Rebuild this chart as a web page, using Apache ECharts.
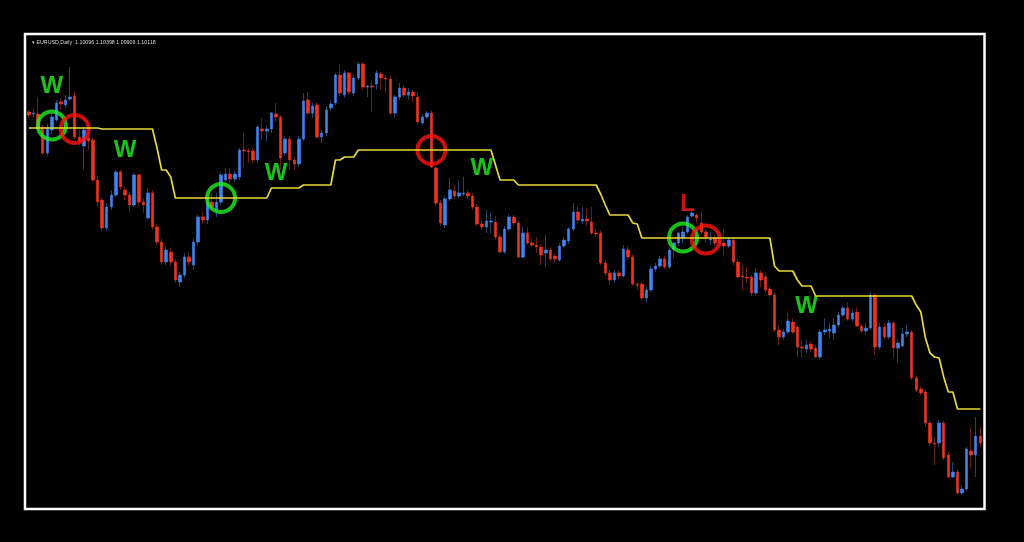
<!DOCTYPE html>
<html>
<head>
<meta charset="utf-8">
<script src="https://cdn.jsdelivr.net/npm/echarts@6/dist/echarts.min.js"></script>
<style>
html,body{margin:0;padding:0;background:#000;}
#chart{width:1024px;height:542px;}
</style>
</head>
<body>
<div id="chart"></div>
<script>
// EURUSD daily bars, prices x 10^4 (points)
const open = [
11776,11772,11772,11746,11694,11740,11760,11796,11790,11802,
11808,11726,11708,11724,11720,11640,11600,11544,11586,11610,
11656,11620,11610,11590,11650,11596,11564,11614,11546,11516,
11476,11496,11476,11436,11450,11486,11470,11516,11566,11560,
11596,11580,11596,11640,11652,11642,11646,11700,11698,11698,
11680,11742,11738,11742,11772,11766,11694,11722,11680,11672,
11722,11800,11774,11790,11726,11734,11784,11794,11850,11810,
11854,11814,11844,11872,11826,11828,11832,11852,11844,11842,
11774,11806,11824,11810,11816,11806,11754,11766,11774,11664,
11594,11550,11602,11618,11608,11612,11614,11608,11586,11552,
11546,11556,11556,11526,11496,11542,11566,11554,11486,11534,
11514,11510,11506,11494,11500,11488,11480,11508,11518,11542,
11576,11558,11562,11556,11534,11534,11474,11454,11440,11454,
11448,11500,11486,11432,11432,11404,11420,11462,11468,11482,
11466,11502,11514,11524,11536,11568,11570,11554,11536,11520,
11524,11514,11514,11508,11520,11476,11448,11446,11446,11414,
11454,11446,11422,11410,11340,11326,11336,11356,11346,11306,
11302,11312,11304,11286,11336,11338,11334,11350,11370,11384,
11362,11376,11348,11338,11344,11410,11306,11346,11326,11354,
11304,11308,11332,11336,11244,11222,11216,11154,11114,11114,
11154,11090,11046,11056,11014,11022,11098,11090,11128];

const close = [
11770,11774,11746,11694,11746,11766,11794,11792,11800,11806,
11726,11716,11740,11718,11640,11596,11544,11586,11610,11656,
11626,11610,11590,11650,11596,11590,11614,11546,11516,11476,
11500,11476,11440,11450,11486,11476,11516,11566,11560,11596,
11586,11596,11650,11652,11642,11652,11700,11698,11696,11680,
11746,11738,11742,11774,11766,11684,11722,11680,11672,11722,
11798,11774,11788,11726,11734,11780,11792,11850,11814,11854,
11816,11844,11872,11826,11828,11826,11854,11844,11842,11774,
11806,11824,11810,11816,11808,11756,11766,11774,11666,11594,
11554,11602,11620,11608,11614,11614,11608,11586,11552,11546,
11558,11558,11526,11496,11542,11566,11554,11486,11534,11514,
11510,11506,11490,11500,11482,11482,11508,11520,11542,11576,
11560,11562,11558,11534,11532,11474,11454,11440,11454,11448,
11502,11486,11432,11430,11404,11420,11462,11468,11482,11466,
11500,11514,11534,11536,11566,11574,11564,11536,11526,11522,
11514,11518,11508,11520,11476,11446,11446,11444,11414,11454,
11440,11420,11410,11340,11326,11336,11358,11336,11306,11304,
11310,11302,11286,11336,11340,11342,11350,11370,11384,11362,
11374,11348,11338,11344,11410,11306,11346,11326,11354,11304,
11314,11332,11336,11244,11220,11214,11154,11114,11112,11154,
11084,11046,11056,11014,11022,11102,11090,11128,11114];

const low = [
11764,11766,11742,11690,11688,11732,11756,11780,11784,11798,
11722,11708,11660,11700,11636,11586,11538,11538,11580,11606,
11620,11600,11574,11586,11586,11574,11560,11540,11510,11470,
11470,11468,11434,11426,11444,11468,11460,11510,11552,11552,
11580,11566,11590,11632,11630,11636,11640,11666,11674,11674,
11674,11720,11716,11734,11756,11660,11688,11660,11660,11666,
11718,11770,11764,11722,11714,11728,11778,11790,11808,11804,
11810,11808,11840,11820,11806,11776,11820,11820,11814,11770,
11766,11800,11806,11800,11796,11752,11750,11762,11664,11588,
11548,11544,11598,11602,11604,11608,11602,11580,11548,11540,
11534,11534,11520,11494,11492,11538,11548,11484,11482,11510,
11506,11494,11470,11466,11476,11474,11476,11504,11512,11538,
11554,11552,11548,11530,11526,11470,11448,11430,11434,11442,
11444,11480,11428,11420,11400,11394,11416,11456,11464,11462,
11462,11484,11508,11514,11532,11564,11554,11532,11514,11510,
11508,11508,11490,11504,11470,11444,11420,11434,11408,11410,
11426,11414,11406,11336,11310,11320,11332,11332,11286,11284,
11294,11296,11284,11282,11330,11324,11320,11346,11366,11358,
11356,11346,11334,11330,11340,11290,11300,11322,11322,11284,
11274,11306,11326,11240,11216,11210,11146,11108,11070,11106,
11080,11044,11044,11010,11010,11018,11064,11046,11106];

const high = [
11780,11784,11806,11750,11752,11774,11800,11804,11810,11866,
11816,11740,11746,11736,11726,11648,11606,11594,11620,11660,
11660,11628,11616,11654,11654,11604,11624,11620,11552,11524,
11508,11504,11482,11456,11494,11496,11524,11570,11576,11604,
11614,11614,11656,11664,11664,11658,11704,11734,11704,11704,
11750,11764,11748,11776,11794,11770,11728,11728,11688,11728,
11814,11816,11794,11796,11740,11788,11800,11854,11870,11860,
11856,11850,11876,11876,11830,11840,11860,11856,11850,11848,
11810,11834,11830,11824,11820,11816,11772,11778,11780,11668,
11600,11608,11644,11630,11640,11646,11620,11614,11592,11560,
11580,11574,11568,11532,11548,11572,11570,11560,11546,11546,
11524,11526,11512,11530,11506,11494,11514,11526,11546,11594,
11588,11586,11584,11586,11542,11540,11480,11460,11460,11460,
11510,11508,11492,11436,11436,11426,11470,11474,11488,11488,
11504,11516,11536,11546,11570,11578,11574,11576,11542,11536,
11530,11526,11542,11526,11524,11482,11470,11466,11450,11464,
11460,11454,11428,11416,11350,11342,11374,11364,11350,11320,
11320,11318,11310,11340,11364,11356,11364,11376,11390,11396,
11380,11386,11352,11354,11416,11414,11354,11354,11360,11358,
11320,11344,11350,11340,11250,11228,11220,11160,11126,11160,
11158,11096,11076,11062,11028,11106,11146,11166,11146];

// yellow stop line (indicator), one value per bar
const stopLine = [
11744,11744,11744,11744,11744,11744,11744,11744,11744,11744,
11744,11744,11744,11744,11744,11744,11742,11742,11742,11742,
11742,11742,11742,11742,11742,11742,11742,11742,11704,11660,
11660,11646,11604,11604,11604,11604,11604,11604,11604,11604,
11604,11604,11604,11604,11604,11604,11604,11604,11604,11604,
11604,11604,11604,11624,11624,11624,11624,11624,11624,11624,
11630,11630,11630,11630,11630,11630,11630,11680,11680,11686,
11686,11686,11700,11700,11700,11700,11700,11700,11700,11700,
11700,11700,11700,11700,11700,11700,11700,11700,11700,11700,
11700,11700,11700,11700,11700,11700,11700,11700,11700,11700,
11700,11700,11670,11640,11640,11640,11640,11630,11630,11630,
11630,11630,11630,11630,11630,11630,11630,11630,11630,11630,
11630,11630,11630,11630,11630,11612,11590,11570,11570,11570,
11570,11570,11554,11552,11524,11524,11524,11524,11524,11524,
11524,11524,11524,11524,11524,11524,11524,11524,11524,11524,
11524,11524,11524,11524,11524,11524,11524,11524,11524,11524,
11524,11524,11524,11468,11458,11458,11458,11458,11440,11428,
11428,11428,11408,11408,11408,11408,11408,11408,11408,11408,
11408,11408,11408,11408,11408,11408,11408,11408,11408,11408,
11408,11408,11408,11408,11390,11376,11324,11294,11286,11284,
11246,11216,11216,11182,11182,11182,11182,11182,11182];

// signal markers: [bar index, price points]
const entryCircles = [[5, 11749], [42, 11604], [143, 11525]];
const exitCircles  = [[10, 11742], [88, 11700], [148, 11521]];
const winLabels  = [[5, 11827], [21, 11700], [54, 11653], [99, 11664], [170, 11387]];
const lossLabels = [[144, 11592]];

const titleText = '\u25BE EURUSD,Daily  1.10096 1.10398 1.09909 1.10118';

const P = 10000;
const categories = open.map((_, i) => String(i + 1));
const wickData = open.map((o, i) => [o / P, close[i] / P, low[i] / P, high[i] / P]);
const bodyData = open.map((o, i) => [o / P, close[i] / P, Math.min(o, close[i]) / P, Math.max(o, close[i]) / P]);
const lineData = stopLine.map(v => v / P);
const toPt = a => a.map(p => [p[0], p[1] / P]);

const chart = echarts.init(document.getElementById('chart'), null, {renderer: 'canvas'});
chart.setOption({
  backgroundColor: '#000000',
  animation: false,
  title: {
    text: titleText,
    left: 27, top: 35,
    textStyle: {color: '#d8d8d8', fontSize: 5.3, fontWeight: 'normal', fontFamily: 'Liberation Sans'}
  },
  grid: [
    {left: 25, right: 39.5, top: 34, bottom: 33, show: true, borderColor: '#ffffff', borderWidth: 2.5, backgroundColor: 'transparent'},
    {left: 26.7, right: 41.4, top: 34, bottom: 32}
  ],
  xAxis: [
    {gridIndex: 0, type: 'value', min: 0, max: 1, show: false},
    {gridIndex: 1, type: 'category', data: categories, boundaryGap: true, show: false}
  ],
  yAxis: [
    {gridIndex: 0, type: 'value', min: 0, max: 1, show: false},
    {gridIndex: 1, type: 'value', min: 1.0980, max: 1.1932, show: false}
  ],
  series: [
    {
      type: 'candlestick', xAxisIndex: 1, yAxisIndex: 1, data: wickData, barWidth: 1, silent: true,
      itemStyle: {color: '#22426e', color0: '#6a1c12', borderColor: '#22426e', borderColor0: '#6a1c12', borderColorDoji: '#22426e', borderWidth: 1}
    },
    {
      type: 'candlestick', xAxisIndex: 1, yAxisIndex: 1, data: bodyData, barWidth: 3, silent: true,
      itemStyle: {color: '#3f84ee', color0: '#ee3420', borderColor: '#3f84ee', borderColor0: '#ee3420', borderColorDoji: '#3f84ee', borderWidth: 0.6}
    },
    {
      type: 'line', xAxisIndex: 1, yAxisIndex: 1, data: lineData, symbol: 'none', silent: true,
      lineStyle: {color: '#e8d83c', width: 1.7}
    },
    {
      type: 'scatter', xAxisIndex: 1, yAxisIndex: 1, data: toPt(entryCircles), symbol: 'circle', symbolSize: 28, silent: true,
      itemStyle: {color: 'rgba(0,0,0,0)', borderColor: '#20f020', borderWidth: 4}
    },
    {
      type: 'scatter', xAxisIndex: 1, yAxisIndex: 1, data: toPt(exitCircles), symbol: 'circle', symbolSize: 28, silent: true,
      itemStyle: {color: 'rgba(0,0,0,0)', borderColor: '#ff1212', borderWidth: 4}
    },
    {
      type: 'scatter', xAxisIndex: 1, yAxisIndex: 1, symbolSize: 1, silent: true,
      data: toPt(winLabels).map(v => ({value: v, name: 'W'})),
      itemStyle: {color: 'rgba(0,0,0,0)'},
      label: {show: true, position: 'inside', formatter: '{b}', color: '#22f222', fontSize: 24, fontWeight: 'bold', fontFamily: 'Liberation Sans'}
    },
    {
      type: 'scatter', xAxisIndex: 1, yAxisIndex: 1, symbolSize: 1, silent: true,
      data: toPt(lossLabels).map(v => ({value: v, name: 'L'})),
      itemStyle: {color: 'rgba(0,0,0,0)'},
      label: {show: true, position: 'inside', formatter: '{b}', color: '#f81818', fontSize: 24, fontWeight: 'bold', fontFamily: 'Liberation Sans'}
    }
  ]
});
</script>
</body>
</html>
